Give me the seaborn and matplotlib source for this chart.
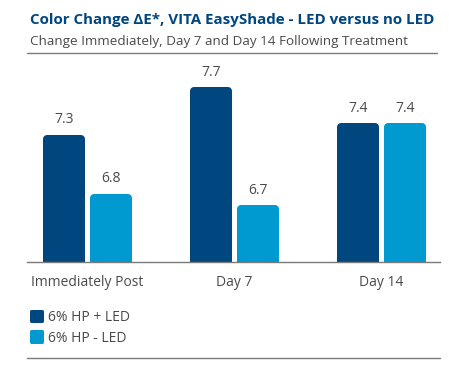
import matplotlib
matplotlib.use("Agg")
import matplotlib.pyplot as plt
import pandas as pd
import seaborn as sns

# values
categories = ["Immediately Post", "Day 7", "Day 14"]
series = ["6% HP + LED", "6% HP - LED"]
with_led = [7.3, 7.7, 7.4]
without_led = [6.8, 6.7, 7.4]

dark_blue = "#00467f"
light_blue = "#0099d0"
text_grey = "#4a4a4a"
line_grey = "#7a7a7a"

df = pd.DataFrame({
    "Timepoint": categories * 2,
    "Group": [series[0]] * 3 + [series[1]] * 3,
    "DeltaE": with_led + without_led,
})

sns.set_theme(style="white")
plt.rcParams["font.family"] = ["Open Sans", "DejaVu Sans"]

W, H = 462, 376
fig = plt.figure(figsize=(W / 100, H / 100), dpi=100)
ax = fig.add_axes([27 / W, 1 - 262 / H, 413 / W, 202 / H])

sns.barplot(data=df, x="Timepoint", y="DeltaE", hue="Group",
            palette=[dark_blue, light_blue], width=0.633, gap=0.27,
            saturation=1, ax=ax)

# thick edge with round joins gives the rounded bar tops
lw_pt = 8 * 72 / 100
for c in ax.containers:
    for p in c:
        p.set_edgecolor(p.get_facecolor())
        p.set_linewidth(lw_pt)
        p.set_joinstyle("round")
    ax.bar_label(c, fmt="%.1f", padding=8, color=text_grey, fontsize=10)

px_per_unit = 118
base = 6.22 + 4 / px_per_unit
ax.set_ylim(base, base + 202 / px_per_unit)
ax.set_xlim(-60.5 / 147, 2 + 58.5 / 147)

ax.set_xlabel("")
ax.set_ylabel("")
ax.set_yticks([])
ax.tick_params(axis="x", length=0, pad=9, labelsize=10, labelcolor=text_grey)
for side in ["top", "left", "right"]:
    ax.spines[side].set_visible(False)
ax.spines["bottom"].set_color(line_grey)
ax.spines["bottom"].set_linewidth(1)

sns.move_legend(ax, "upper left", bbox_to_anchor=(30.5 / W, 1 - 310 / H),
                bbox_transform=fig.transFigure, frameon=False, title=None,
                borderpad=0, borderaxespad=0,
                handlelength=0.8, handleheight=0.8, handletextpad=0.45,
                labelspacing=0.4, fontsize=10)
leg = ax.get_legend()
for t in leg.get_texts():
    t.set_color(text_grey)
for h in leg.legend_handles:
    h.set_edgecolor(h.get_facecolor())
    h.set_linewidth(3 * 72 / 100)
    h.set_joinstyle("round")

fig.text(30 / W, 1 - 20 / H, "Color Change \u0394E*, VITA EasyShade - LED versus no LED",
         ha="left", va="center", fontsize=10.9, fontweight="bold", color=dark_blue)
fig.text(30 / W, 1 - 42 / H, "Change Immediately, Day 7 and Day 14 Following Treatment",
         ha="left", va="center", fontsize=9.7, color=text_grey)

fig.add_artist(plt.Line2D([27 / W, 437 / W], [1 - 53 / H, 1 - 53 / H],
                          color=line_grey, lw=1))
fig.add_artist(plt.Line2D([27 / W, 440 / W], [1 - 358 / H, 1 - 358 / H],
                          color=line_grey, lw=1))

fig.savefig("out.png", dpi=100, facecolor="white")
